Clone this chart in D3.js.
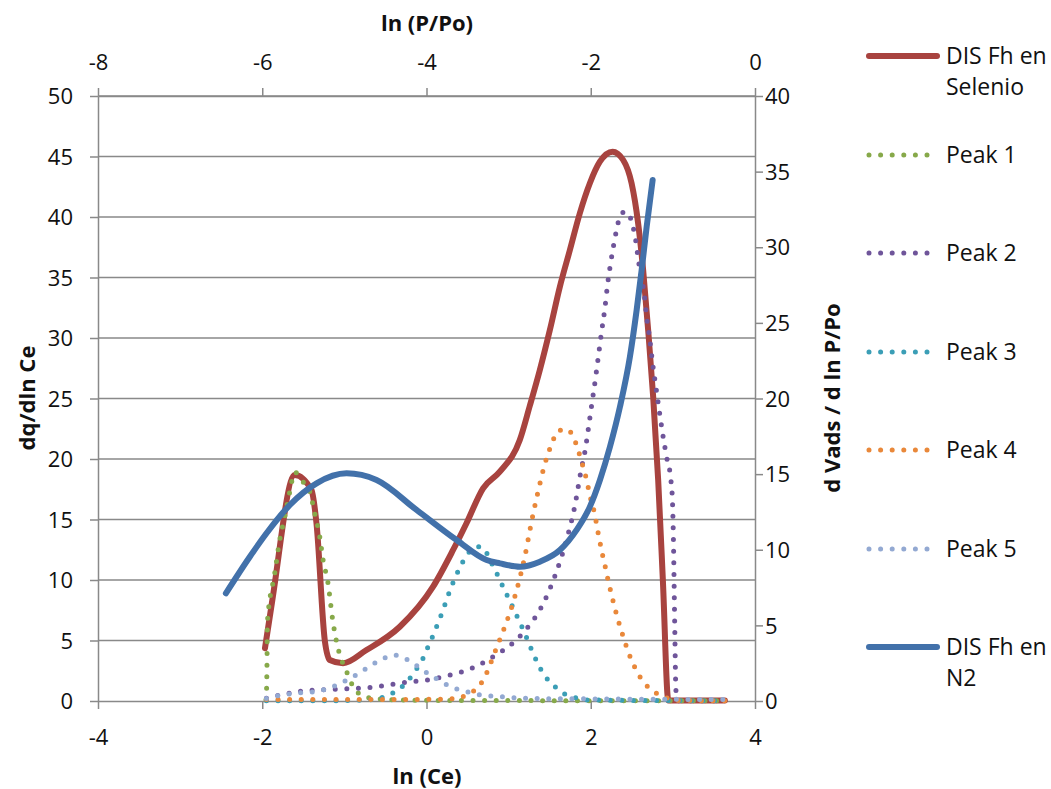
<!DOCTYPE html>
<html>
<head>
<meta charset="utf-8">
<script src="https://cdn.jsdelivr.net/npm/d3@7"></script>
<style>
  body { margin: 0; background: #fff; }
  text { font-family: "Open Sans", sans-serif; fill: #111; }
</style>
</head>
<body>
<svg id="chart" width="1051" height="789"></svg>
<script>
// ---- Data ---------------------------------------------------------------
// Primary axes: x = ln(Ce), y = dq/dln Ce
const seleniumX = [-1.967, -1.877, -1.604, -1.401, -1.340, -1.239, -1.178, -1.016, -0.731, -0.325, 0.080, 0.324, 0.487, 0.689, 0.893, 1.136, 1.258, 1.380, 1.502, 1.624, 1.746, 1.867, 1.989, 2.111, 2.266, 2.395, 2.497, 2.577, 2.638, 2.699, 2.760, 2.821, 2.878, 2.945, 3.200, 3.633];
const seleniumY = [4.36, 8.35, 18.68, 17.44, 14.71, 5.04, 3.39, 3.12, 4.21, 6.14, 9.45, 12.48, 14.69, 17.58, 18.95, 21.57, 24.40, 27.36, 30.66, 34.24, 37.27, 40.31, 42.79, 44.57, 45.40, 44.71, 42.79, 39.48, 35.62, 30.66, 25.15, 18.26, 10.00, 0.05, 0.05, 0.05];

const peak1X = [-1.955, -1.948, -1.943, -1.937, -1.848, -1.787, -1.726, -1.665, -1.604, -1.503, -1.422, -1.361, -1.300, -1.259, -1.199, -1.145, -1.096, -1.016, -0.955, -0.894, -0.792, -0.650, -0.325, 0.500, 3.633];
const peak1Y = [0.10, 0.77, 2.70, 6.55, 10.55, 13.31, 15.23, 17.30, 18.90, 18.12, 17.30, 15.51, 13.58, 11.65, 9.73, 6.83, 4.90, 3.06, 2.15, 1.18, 0.50, 0.22, 0.08, 0.04, 0.02];

const peak2X = [-1.949, -1.564, -1.138, -0.711, -0.285, 0.007, 0.284, 0.568, 0.811, 1.047, 1.238, 1.401, 1.575, 1.705, 1.806, 1.879, 1.937, 1.977, 2.017, 2.058, 2.095, 2.132, 2.172, 2.205, 2.245, 2.294, 2.322, 2.363, 2.409, 2.456, 2.504, 2.537, 2.577, 2.598, 2.650, 2.680, 2.720, 2.753, 2.793, 2.833, 2.875, 2.923, 2.976, 2.996, 3.009, 3.018, 3.024, 3.037, 3.060, 3.633];
const peak2Y = [0.22, 0.77, 0.97, 1.10, 1.51, 1.74, 2.15, 2.75, 3.66, 4.77, 6.14, 7.79, 10.55, 13.31, 16.12, 18.95, 20.93, 22.81, 24.74, 26.67, 28.60, 30.52, 32.45, 34.44, 36.31, 38.24, 39.20, 40.17, 40.41, 40.36, 39.42, 38.51, 36.59, 35.62, 33.69, 31.76, 29.83, 27.91, 25.98, 24.05, 22.12, 20.19, 18.26, 16.34, 12.48, 8.35, 5.60, 0.91, 0.02, 0.02];

const peak3X = [-1.949, -1.000, -0.650, -0.508, -0.365, -0.264, -0.171, -0.090, -0.021, 0.032, 0.093, 0.141, 0.195, 0.244, 0.292, 0.345, 0.406, 0.475, 0.568, 0.633, 0.698, 0.762, 0.832, 0.893, 0.954, 1.015, 1.076, 1.136, 1.197, 1.250, 1.307, 1.368, 1.441, 1.535, 1.644, 1.773, 1.990, 3.633];
const peak3Y = [0.02, 0.03, 0.12, 0.37, 0.85, 1.40, 2.15, 2.98, 3.80, 4.71, 5.60, 6.47, 7.38, 8.35, 9.26, 10.14, 11.02, 11.88, 12.62, 12.75, 12.62, 11.79, 10.88, 10.00, 9.12, 8.26, 7.38, 6.50, 5.60, 4.71, 3.80, 2.92, 2.07, 1.38, 0.72, 0.36, 0.08, 0.02];

const peak4X = [-1.949, -1.000, 0.080, 0.365, 0.499, 0.621, 0.702, 0.759, 0.811, 0.914, 1.015, 1.096, 1.197, 1.279, 1.372, 1.441, 1.535, 1.596, 1.713, 1.794, 1.847, 1.888, 1.928, 1.961, 1.989, 2.029, 2.058, 2.083, 2.111, 2.139, 2.172, 2.200, 2.233, 2.302, 2.382, 2.476, 2.598, 2.801, 2.923, 3.080, 3.633];
const peak4Y = [0.12, 0.12, 0.14, 0.22, 0.55, 1.10, 1.88, 2.75, 3.66, 5.45, 7.30, 9.12, 11.93, 14.82, 17.71, 19.59, 21.43, 22.31, 22.45, 21.71, 20.74, 19.78, 18.87, 17.93, 16.97, 16.01, 15.10, 14.13, 13.17, 12.21, 11.24, 10.33, 9.36, 7.46, 5.60, 3.72, 2.01, 0.64, 0.27, 0.04, 0.02];

const peak5X = [-1.949, -1.868, -1.583, -1.300, -1.166, -1.035, -0.914, -0.792, -0.670, -0.536, -0.407, -0.264, -0.143, -0.033, 0.080, 0.202, 0.345, 0.487, 0.628, 0.914, 1.197, 2.111, 3.633];
const peak5Y = [0.20, 0.36, 0.64, 0.85, 1.10, 1.51, 1.93, 2.42, 2.98, 3.47, 3.80, 3.53, 3.03, 2.50, 2.01, 1.51, 1.05, 0.77, 0.54, 0.36, 0.22, 0.17, 0.12];

// Secondary axes: x = ln(P/Po), y = d Vads / d ln P/Po
const nitrogenX = [-6.443, -6.151, -5.948, -5.664, -5.339, -4.973, -4.608, -4.121, -3.633, -3.268, -3.106, -2.862, -2.619, -2.375, -2.172, -2.010, -1.888, -1.766, -1.644, -1.523, -1.441, -1.380, -1.319, -1.246];
const nitrogenY = [7.12, 9.54, 11.09, 12.96, 14.39, 15.05, 14.61, 12.63, 10.64, 9.32, 9.10, 8.88, 9.21, 9.98, 11.31, 12.85, 14.61, 16.81, 19.46, 22.76, 25.85, 28.50, 31.36, 34.45];

// Tick labels
const lnCeTicks = [-4, -2, 0, 2, 4];
const lnPTicks = [-8, -6, -4, -2, 0];
const dqTicks = [0, 5, 10, 15, 20, 25, 30, 35, 40, 45, 50];
const vadsTicks = [0, 5, 10, 15, 20, 25, 30, 35, 40];

// Legend labels
const legendLabels = [
  ["DIS Fh en", "Selenio"],
  ["Peak 1"], ["Peak 2"], ["Peak 3"], ["Peak 4"], ["Peak 5"],
  ["DIS Fh en", "N2"]
];

// ---- Chart ----------------------------------------------------------------
const svg = d3.select("#chart");
const plotLeft = 98, plotRight = 755, plotTop = 96, plotBottom = 701;
const axisColor = "#898989";

const x = d3.scaleLinear().domain([-4, 4]).range([plotLeft, plotRight]);
const x2 = d3.scaleLinear().domain([-8, 0]).range([plotLeft, plotRight]);
const y = d3.scaleLinear().domain([0, 50]).range([plotBottom, plotTop]);
const y2 = d3.scaleLinear().domain([0, 40]).range([plotBottom, plotTop]);

// horizontal gridlines
svg.append("g").selectAll("line").data(dqTicks.filter(d => d > 0)).join("line")
  .attr("x1", plotLeft).attr("x2", plotRight)
  .attr("y1", d => y(d)).attr("y2", d => y(d))
  .attr("stroke", axisColor).attr("stroke-width", 1.5);

const fmt = d => String(d);
function styleAxis(g) {
  g.selectAll("path.domain").attr("stroke", axisColor).attr("stroke-width", 1.5);
  g.selectAll(".tick line").attr("stroke", axisColor).attr("stroke-width", 1.5);
  g.selectAll("text").style("font-family", '"Open Sans", sans-serif')
    .style("font-size", "22px").attr("fill", "#111");
}

const gBottom = svg.append("g").attr("transform", `translate(0,${plotBottom})`)
  .call(d3.axisBottom(x).tickValues(lnCeTicks).tickFormat(fmt).tickSize(8).tickSizeOuter(0));
gBottom.selectAll("text").attr("y", 36).attr("dy", "0.35em");
styleAxis(gBottom);

const gTop = svg.append("g").attr("transform", `translate(0,${plotTop})`)
  .call(d3.axisTop(x2).tickValues(lnPTicks).tickFormat(fmt).tickSize(8).tickSizeOuter(0));
gTop.selectAll("text").attr("y", -34).attr("dy", "0.35em");
styleAxis(gTop);

const gLeft = svg.append("g").attr("transform", `translate(${plotLeft},0)`)
  .call(d3.axisLeft(y).tickValues(dqTicks).tickFormat(fmt).tickSize(8).tickSizeOuter(0));
gLeft.selectAll("text").attr("x", -25).attr("dy", "0.35em");
styleAxis(gLeft);

const gRight = svg.append("g").attr("transform", `translate(${plotRight},0)`)
  .call(d3.axisRight(y2).tickValues(vadsTicks).tickFormat(fmt).tickSize(8).tickSizeOuter(0));
gRight.selectAll("text").attr("x", 10).attr("dy", "0.35em");
styleAxis(gRight);

// axis titles
const titleStyle = sel => sel.attr("font-weight", "bold").style("font-size", "22px")
  .attr("text-anchor", "middle").attr("dy", "0.35em");
svg.append("text").attr("x", 427).attr("y", 23).text("ln (P/Po)").call(titleStyle);
svg.append("text").attr("x", 427).attr("y", 776).text("ln (Ce)").call(titleStyle);
svg.append("text").attr("transform", "translate(27,398) rotate(-90)").text("dq/dln Ce").call(titleStyle);
svg.append("text").attr("transform", "translate(832,398) rotate(-90)").text("d Vads / d ln P/Po").call(titleStyle);

// series
const series = [
  { xs: seleniumX, ys: seleniumY, color: "#A8433F", dotted: false, sx: x, sy: y },
  { xs: peak1X, ys: peak1Y, color: "#87A94A", dotted: true, sx: x, sy: y },
  { xs: peak2X, ys: peak2Y, color: "#6F559A", dotted: true, sx: x, sy: y },
  { xs: peak3X, ys: peak3Y, color: "#3B9EB6", dotted: true, sx: x, sy: y },
  { xs: peak4X, ys: peak4Y, color: "#E9883A", dotted: true, sx: x, sy: y },
  { xs: peak5X, ys: peak5Y, color: "#93A9D2", dotted: true, sx: x, sy: y },
  { xs: nitrogenX, ys: nitrogenY, color: "#4271AA", dotted: false, sx: x2, sy: y2 }
];

function styleStroke(sel, s) {
  sel.attr("fill", "none").attr("stroke", s.color).attr("stroke-linecap", "round")
    .attr("stroke-linejoin", "round");
  if (s.dotted) sel.attr("stroke-width", 5).attr("stroke-dasharray", "0 11.6");
  else sel.attr("stroke-width", 6);
}

series.forEach(s => {
  const pts = s.xs.map((v, i) => [v, s.ys[i]]);
  const line = d3.line().x(d => s.sx(d[0])).y(d => s.sy(d[1])).curve(d3.curveMonotoneX);
  svg.append("path").datum(pts).attr("d", line).call(styleStroke, s);
});

// legend
const legendY = [56, 155, 253, 352, 450, 549, 647];
const legend = svg.append("g");
series.forEach((s, i) => {
  const ly = legendY[i];
  legend.append("line").attr("x1", 869).attr("x2", s.dotted ? 933 : 937)
    .attr("y1", ly).attr("y2", ly).call(styleStroke, s);
  legendLabels[i].forEach((t, j) => {
    legend.append("text").attr("x", 946).attr("y", ly + j * 31).attr("dy", "0.35em")
      .style("font-size", "23px").text(t);
  });
});
</script>
</body>
</html>
